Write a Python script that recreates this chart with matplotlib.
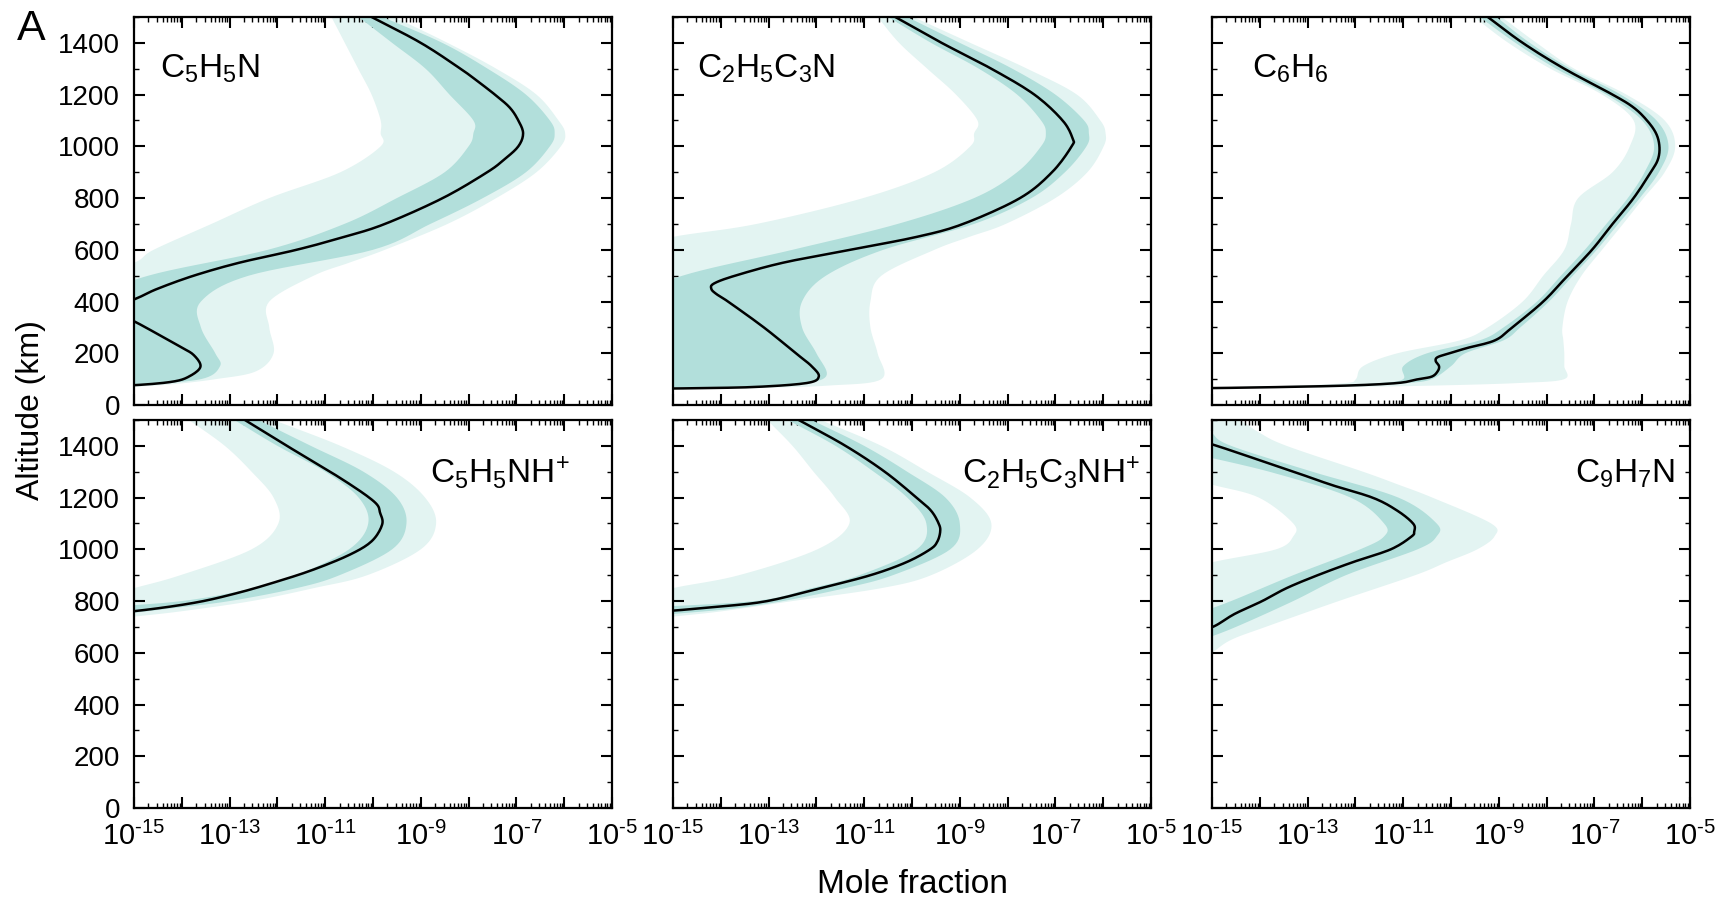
import numpy as np
import matplotlib
matplotlib.use('Agg')
import matplotlib.pyplot as plt
from matplotlib.ticker import FixedLocator, FuncFormatter, MultipleLocator, LogLocator, NullFormatter

plt.rcParams['font.family'] = ['Liberation Sans', 'DejaVu Sans']
plt.rcParams['mathtext.fontset'] = 'custom'
plt.rcParams['mathtext.rm'] = 'Liberation Sans'
plt.rcParams['mathtext.it'] = 'Liberation Sans:italic'
plt.rcParams['mathtext.bf'] = 'Liberation Sans:bold'
plt.rcParams['mathtext.default'] = 'regular'

# ---------------- data (altitude in km, values are log10 mole fraction) ----------------
species = [r'C$_5$H$_5$N', r'C$_2$H$_5$C$_3$N', r'C$_6$H$_6$',
           r'C$_5$H$_5$NH$^{+}$', r'C$_2$H$_5$C$_3$NH$^{+}$', r'C$_9$H$_7$N']

# Panel 1: C5H5N
p1_med_alt = [1500, 1400, 1300, 1250, 1200, 1150, 1100, 1050, 1000, 950, 900, 800, 700, 650, 600, 550, 500, 450, 420,
              400, 360, 330, 320, 283, 225, 193, 148, 110, 90, 77, 70]
p1_med = [-10.03, -9.0, -8.17, -7.8, -7.45, -7.14, -6.96, -6.86, -6.96, -7.25, -7.61, -8.54, -9.75, -10.6, -11.6,
          -12.8, -13.75, -14.5, -14.85, -15.1, -15.6, -15.1, -14.96, -14.59, -14.03, -13.75, -13.61, -13.85, -14.2,
          -14.96, -16.0]
p1_env_alt = [1500, 1400, 1300, 1200, 1100, 1050, 1000, 900, 800, 700, 600, 550, 500, 400, 300, 200, 130, 100, 80, 70]
p1_env_lo = [-10.87, -10.59, -10.31, -10.03, -9.84, -9.84, -9.84, -10.68, -12.17, -13.38, -14.59, -15.0, -16, -16,
             -16, -16, -16, -16, -16, -16]
p1_env_hi = [-9.56, -8.44, -7.42, -6.58, -6.12, -5.98, -6.07, -6.58, -7.42, -8.44, -9.75, -10.5, -11.24, -12.17,
             -12.17, -12.08, -12.45, -13.29, -14.2, -15.0]
p1_core_alt = [1500, 1400, 1300, 1200, 1100, 1050, 1000, 900, 800, 700, 600, 500, 400, 300, 200, 150, 100, 75]
p1_core_lo = [-10.3, -9.6, -8.9, -8.4, -7.9, -7.9, -8.0, -8.5, -9.5, -10.6, -12.2, -14.7, -16, -16, -16, -16, -16, -16]
p1_core_hi = [-9.8, -8.55, -7.6, -6.8, -6.3, -6.2, -6.3, -6.8, -7.7, -8.8, -10.0, -12.6, -13.6, -13.6, -13.3, -13.2,
              -13.6, -15.0]

# Panel 2: C2H5C3N
p2_med_alt = [1500, 1400, 1300, 1200, 1100, 1030, 1000, 900, 800, 700, 650, 600, 550, 500, 470, 450, 430, 400, 300,
              200, 150, 110, 85, 70, 65, 62]
p2_med = [-10.35, -9.38, -8.34, -7.44, -6.85, -6.64, -6.66, -7.07, -7.74, -8.93, -9.9, -11.3, -12.7, -13.7, -14.14,
          -14.2, -14.1, -13.85, -13.1, -12.43, -12.1, -11.95, -12.2, -13.25, -14.5, -16.0]
p2_env_alt = [1500, 1400, 1300, 1200, 1100, 1050, 1000, 900, 800, 700, 650, 600, 500, 400, 300, 200, 100, 75, 65]
p2_env_lo = [-10.72, -10.27, -9.68, -9.08, -8.63, -8.7, -8.78, -9.53, -11.02, -13.25, -15.0, -16, -16, -16, -16, -16,
             -16, -16, -16]
p2_env_hi = [-9.97, -8.78, -7.59, -6.55, -6.06, -5.95, -5.99, -6.33, -7.0, -8.04, -8.8, -9.53, -10.64, -10.87, -10.87,
             -10.72, -10.64, -11.76, -13.25]
p2_core_alt = [1500, 1400, 1300, 1200, 1100, 1050, 1000, 900, 800, 700, 600, 500, 400, 300, 200, 110, 80, 68]
p2_core_lo = [-10.5, -9.6, -8.6, -7.8, -7.3, -7.2, -7.3, -7.8, -8.7, -10.3, -12.5, -14.8, -16, -16, -16, -16, -16, -16]
p2_core_hi = [-10.1, -9.0, -7.9, -7.0, -6.4, -6.3, -6.35, -6.8, -7.5, -8.7, -10.6, -11.8, -12.3, -12.3, -12.0, -11.8,
              -12.5, -14.0]

# Panel 3: C6H6
p3_med_alt = [1500, 1400, 1300, 1200, 1150, 1100, 1050, 1000, 950, 900, 800, 700, 600, 500, 400, 300, 250, 220, 200,
              185, 170, 150, 130, 110, 100, 85, 75, 68, 65]
p3_med = [-9.23, -8.5, -7.63, -6.62, -6.18, -5.9, -5.71, -5.64, -5.67, -5.82, -6.18, -6.62, -7.05, -7.56, -8.07, -8.72,
          -9.08, -9.67, -10.03, -10.28, -10.32, -10.25, -10.28, -10.4, -10.68, -11.12, -12.2, -14.0, -15.2]
p3_env_alt = [1500, 1400, 1300, 1200, 1100, 1000, 900, 800, 700, 600, 500, 400, 300, 250, 200, 150, 100, 85, 75, 68]
p3_env_lo = [-9.52, -8.8, -7.92, -6.84, -6.18, -6.26, -6.62, -7.34, -7.49, -7.63, -8.07, -8.5, -9.23, -9.81, -11.12,
             -11.84, -11.99, -12.2, -13.3, -15.0]
p3_env_hi = [-8.94, -8.21, -7.42, -6.33, -5.53, -5.31, -5.53, -5.97, -6.4, -6.84, -7.27, -7.56, -7.67, -7.65, -7.63,
             -7.63, -7.63, -8.58, -10.39, -12.57]
p3_core_alt = [1500, 1400, 1300, 1200, 1100, 1000, 900, 800, 700, 600, 500, 400, 300, 250, 200, 150, 100, 85, 75, 68]
p3_core_lo = [-9.4, -8.65, -7.8, -6.75, -6.0, -5.75, -5.95, -6.3, -6.75, -7.2, -7.7, -8.2, -8.9, -9.4, -10.5, -11.0,
              -11.0, -11.5, -12.6, -15.0]
p3_core_hi = [-9.05, -8.35, -7.5, -6.45, -5.7, -5.45, -5.65, -6.05, -6.5, -6.95, -7.45, -7.95, -8.55, -8.9, -9.7,
              -10.0, -10.4, -10.9, -11.8, -13.5]

# Panel 4: C5H5NH+
p4_med_alt = [1500, 1400, 1275, 1185, 1140, 1095, 1031, 979, 922, 877, 832, 793, 761, 750]
p4_med = [-12.68, -11.8, -10.68, -9.98, -9.85, -9.81, -10.03, -10.49, -11.24, -11.98, -12.82, -13.75, -15.0, -16.0]
p4_env_alt = [1500, 1400, 1300, 1200, 1100, 1000, 900, 850, 800, 760, 740]
p4_env_lo = [-13.85, -13.1, -12.54, -12.08, -11.98, -12.54, -14.03, -15.0, -16, -16, -16]
p4_env_hi = [-12.08, -10.68, -9.56, -8.91, -8.68, -9.0, -10.12, -11.24, -12.54, -14.03, -15.0]
p4_core_alt = [1500, 1400, 1300, 1200, 1100, 1000, 900, 850, 800, 770, 750]
p4_core_lo = [-12.9, -12.0, -11.0, -10.3, -10.1, -10.5, -11.6, -12.5, -14.0, -16, -16]
p4_core_hi = [-12.4, -11.3, -10.2, -9.5, -9.3, -9.6, -10.7, -11.6, -13.0, -14.3, -15.2]

# Panel 5: C2H5C3NH+
p5_med_alt = [1499, 1400, 1300, 1199, 1149, 1099, 1069, 1030, 1000, 950, 900, 850, 800, 779, 763, 750]
p5_med = [-12.36, -11.39, -10.57, -9.9, -9.6, -9.44, -9.41, -9.47, -9.62, -10.12, -10.87, -11.91, -13.03, -14.0,
          -15.0, -16.0]
p5_env_alt = [1500, 1400, 1300, 1200, 1100, 1000, 900, 850, 800, 760, 740]
p5_env_lo = [-13.03, -12.5, -12.06, -11.61, -11.31, -11.98, -13.62, -15.0, -16, -16, -16]
p5_env_hi = [-11.91, -10.64, -9.68, -8.78, -8.34, -8.63, -9.6, -10.64, -12.5, -14.0, -15.0]
p5_core_alt = [1500, 1400, 1300, 1200, 1100, 1000, 900, 850, 800, 770, 750]
p5_core_lo = [-12.6, -11.6, -10.8, -10.1, -9.7, -9.9, -11.1, -12.1, -13.3, -16, -16]
p5_core_hi = [-12.1, -11.0, -10.1, -9.3, -9.0, -9.2, -10.4, -11.4, -12.7, -13.8, -15.0]

# Panel 6: C9H7N
p6_med_alt = [1460, 1406, 1350, 1300, 1249, 1199, 1149, 1099, 1069, 1049, 1000, 950, 900, 850, 800, 750, 699, 680]
p6_med = [-16.0, -15.0, -14.09, -13.29, -12.5, -11.63, -11.12, -10.79, -10.77, -10.83, -11.26, -12.06, -12.79, -13.44,
          -13.95, -14.53, -15.0, -15.5]
p6_env_alt = [1500, 1450, 1400, 1300, 1250, 1200, 1100, 1050, 1000, 950, 900, 800, 700, 650, 600]
p6_env_lo = [-16, -16, -16, -16, -15.0, -14.02, -13.3, -13.3, -13.66, -15.0, -16, -16, -16, -16, -16]
p6_env_hi = [-14.4, -14.0, -13.44, -11.84, -11.1, -10.39, -9.16, -9.09, -9.45, -10.1, -10.75, -12.35, -13.88, -14.6,
             -15.0]
p6_core_alt = [1500, 1450, 1400, 1300, 1200, 1100, 1050, 1000, 900, 800, 700, 650]
p6_core_lo = [-16, -16, -16, -13.8, -12.1, -11.4, -11.4, -11.9, -13.3, -14.6, -16, -16]
p6_core_hi = [-15.2, -15.0, -14.6, -12.9, -11.1, -10.3, -10.3, -10.7, -12.2, -13.3, -14.5, -15.2]

# axes ranges and tick labels
x_exponents = list(range(-15, -4))
y_ticks = [0, 200, 400, 600, 800, 1000, 1200, 1400]

panels = [
    (p1_med_alt, p1_med, p1_env_alt, p1_env_lo, p1_env_hi, p1_core_alt, p1_core_lo, p1_core_hi),
    (p2_med_alt, p2_med, p2_env_alt, p2_env_lo, p2_env_hi, p2_core_alt, p2_core_lo, p2_core_hi),
    (p3_med_alt, p3_med, p3_env_alt, p3_env_lo, p3_env_hi, p3_core_alt, p3_core_lo, p3_core_hi),
    (p4_med_alt, p4_med, p4_env_alt, p4_env_lo, p4_env_hi, p4_core_alt, p4_core_lo, p4_core_hi),
    (p5_med_alt, p5_med, p5_env_alt, p5_env_lo, p5_env_hi, p5_core_alt, p5_core_lo, p5_core_hi),
    (p6_med_alt, p6_med, p6_env_alt, p6_env_lo, p6_env_hi, p6_core_alt, p6_core_lo, p6_core_hi),
]

# label placement (axes fraction, alignment)
label_pos = [(0.054, 0.845, 'left'), (0.050, 0.845, 'left'), (0.084, 0.845, 'left'),
             (0.912, 0.838, 'right'), (0.977, 0.838, 'right'), (0.969, 0.838, 'right')]


# ---------------- drawing helpers ----------------
def smooth_path(alt, vals, n=10):
    """Catmull-Rom rendering of a read-off polyline (drawing only)."""
    P = np.column_stack([np.asarray(vals, float), np.asarray(alt, float)])
    P = np.vstack([2 * P[0] - P[1], P, 2 * P[-1] - P[-2]])
    t = np.linspace(0, 1, n, endpoint=False)[:, None]
    segs = []
    for i in range(1, len(P) - 2):
        p0, p1, p2, p3 = P[i - 1], P[i], P[i + 1], P[i + 2]
        segs.append(0.5 * (2 * p1 + (-p0 + p2) * t + (2 * p0 - 5 * p1 + 4 * p2 - p3) * t ** 2
                           + (-p0 + 3 * p1 - 3 * p2 + p3) * t ** 3))
    segs.append(P[-2][None, :])
    S = np.vstack(segs)
    return S[:, 1], S[:, 0]


def band(ax, alt, lo, hi, color, z):
    a1, l1 = smooth_path(alt, lo)
    a2, h1 = smooth_path(alt, hi)
    xs = np.r_[10.0 ** l1, (10.0 ** h1)[::-1]]
    ys = np.r_[a1, a2[::-1]]
    ax.fill(xs, ys, color=color, lw=0, zorder=z)


def xfmt(v, pos):
    e = int(round(np.log10(v)))
    if e % 2 == 0:
        return ''
    return r'$10^{\text{-}%d}$' % abs(e) if e < 0 else r'$10^{%d}$' % e


# ---------------- figure ----------------
W, H = 1736, 901
fig = plt.figure(figsize=(W / 100, H / 100), dpi=100)
col_left = [134, 673, 1212]
row_top = [17, 420]
aw, ah = 478, 388

env_color = '#e3f4f2'
core_color = '#b2dfdb'

for i, (malt, med, ealt, elo, ehi, calt, clo, chi) in enumerate(panels):
    r, c = divmod(i, 3)
    ax = fig.add_axes([col_left[c] / W, 1 - (row_top[r] + ah) / H, aw / W, ah / H])
    ax.set_xscale('log')
    band(ax, ealt, elo, ehi, env_color, 1)
    band(ax, calt, clo, chi, core_color, 2)
    sa, sm = smooth_path(malt, med)
    ax.plot(10.0 ** sm, sa, color='black', lw=1.8, zorder=3, solid_joinstyle='round')
    ax.set_xlim(10.0 ** x_exponents[0], 10.0 ** x_exponents[-1])
    ax.set_ylim(0, 1500)

    ax.xaxis.set_major_locator(FixedLocator([10.0 ** e for e in x_exponents]))
    ax.xaxis.set_minor_locator(LogLocator(base=10, subs=np.arange(2, 10), numticks=100))
    ax.xaxis.set_minor_formatter(NullFormatter())
    ax.yaxis.set_major_locator(FixedLocator(y_ticks))
    ax.yaxis.set_minor_locator(MultipleLocator(100))
    if r == 1:
        ax.xaxis.set_major_formatter(FuncFormatter(xfmt))
    else:
        ax.xaxis.set_major_formatter(NullFormatter())
    if c != 0:
        ax.yaxis.set_major_formatter(NullFormatter())

    ax.tick_params(which='both', direction='in', top=True, right=True)
    ax.tick_params(which='major', length=8, width=1.5)
    ax.tick_params(which='minor', length=3.5, width=1.0)
    ax.tick_params(axis='y', which='major', labelsize=20, pad=10)
    ax.tick_params(axis='x', which='major', labelsize=21, pad=10)
    for s in ax.spines.values():
        s.set_linewidth(1.6)

    lx, ly, ha = label_pos[i]
    ax.text(lx, ly, species[i], transform=ax.transAxes, ha=ha, va='baseline', fontsize=24, zorder=5)

fig.text(17 / W, 1 - 40 / H, 'A', fontsize=31, ha='left', va='baseline')
fig.text(31 / W, 1 - 410 / H, 'Altitude (km)', fontsize=23, rotation=90, ha='center', va='center')
fig.text(912 / W, 1 - 893 / H, 'Mole fraction', fontsize=24, ha='center', va='baseline')

fig.savefig('out.png', dpi=100)
